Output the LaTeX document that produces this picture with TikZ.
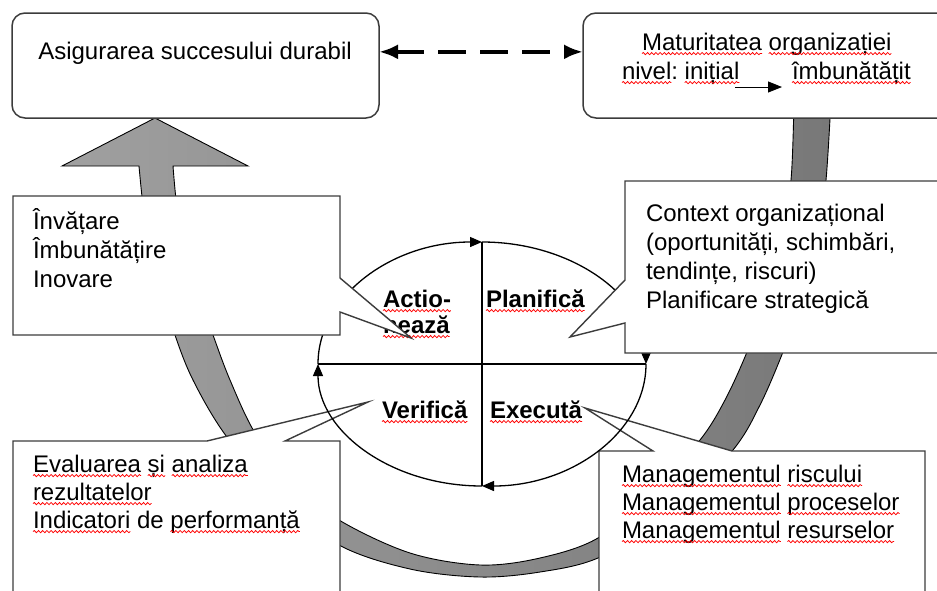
\documentclass[tikz,border=0pt]{standalone}
\usepackage{fontspec}
\setmainfont{Liberation Sans}
\usetikzlibrary{arrows.meta,shapes.geometric,calc,positioning,decorations.pathmorphing}

\definecolor{bandlight}{RGB}{160,160,160}
\definecolor{banddark}{RGB}{120,120,120}
\definecolor{edgegray}{RGB}{60,60,60}

\tikzset{
  txt/.style={anchor=base west, inner sep=0pt, outer sep=0pt,
              font=\fontsize{24}{28.6}\selectfont},
  ctxt/.style={txt, anchor=base},
  lbl/.style={txt, font=\fontsize{24}{28.6}\selectfont\bfseries},
  squig/.style={draw=red, line width=0.75pt, decorate,
                decoration={snake, amplitude=1.1pt, segment length=4.2pt}},
  % red wavy underline below a word node
  sq/.style={append after command={\pgfextra{\let\sqnode\tikzlastnode}
      ([yshift=-3.6pt]\sqnode.base west) edge[squig] ([yshift=-3.6pt]\sqnode.base east)}},
  nextword/.style={txt, base right=6.67pt of #1},
  topbox/.style={rectangle, draw=edgegray, line width=1.5pt, fill=white,
                 rounded corners=13pt, inner sep=0pt, outer sep=0pt},
  callout/.style={draw=edgegray, line width=1.4pt, fill=white, line join=miter},
  band/.style={draw=black, line width=0.9pt, left color=bandlight, right color=banddark},
  cyc/.style={line width=1.3pt, -{Triangle[length=12pt,width=10pt]}},
  crossline/.style={line width=1.3pt},
  dasharrow/.style={line width=4pt, dash pattern=on 28pt off 14pt,
                    {Latex[length=19pt,width=15pt]}-{Latex[length=19pt,width=15pt]}},
  smallarrow/.style={line width=1pt, -{Triangle[length=14pt,width=11pt]}}
}

\begin{document}
\begin{tikzpicture}[x=1pt,y=-1pt]
\useasboundingbox (0,0) rectangle (937,590);
\clip (0,0) rectangle (937,590);
\fill[white] (0,0) rectangle (937,590);

% the large circular arrow running round the cycle
\path[band]
  plot[smooth, tension=0.55] coordinates {(831,100) (826,180) (818,235) (802,300) (783,352)
      (760,405) (733,450) (670,517) (598,558) (540,572) (480,577) (410,569) (339,545)
      (275,495) (224,433) (193,380) (175,335) (157,275) (145,220) (139,166)}
  -- (62,166) -- (155,118) -- (248,166) --
  plot[smooth, tension=0.55] coordinates {(173,166) (178,215) (190,270) (213,335) (230,380)
      (255,433) (292,482) (339,520) (410,553) (480,565) (540,558) (598,538) (652,492)
      (700,440) (725,400) (747,352) (766,300) (781,240) (791,180) (794,100)}
  -- cycle;

% lower callouts
\path[callout] (13,441) -- (207,441) -- (368,402) -- (285,441) -- (340,441)
  -- (340,600) -- (13,600) -- cycle;
\path[callout] (599,451) -- (653,451) -- (585,408) -- (732,451) -- (925,451)
  -- (925,600) -- (599,600) -- cycle;

% PDCA cycle
\node[ellipse, minimum width=328pt, minimum height=244pt, inner sep=0pt, outer sep=0pt]
  (pdca) at (482,364) {};
\draw[crossline] (pdca.west) -- (pdca.east);
\draw[crossline] (pdca.north) -- (pdca.south);
\draw[cyc] (pdca.west)  arc[start angle=180, end angle=270, x radius=164, y radius=122];
\draw[cyc] (pdca.north) arc[start angle=270, end angle=360, x radius=164, y radius=122];
\draw[cyc] (pdca.east)  arc[start angle=0,   end angle=90,  x radius=164, y radius=122];
\draw[cyc] (pdca.south) arc[start angle=90,  end angle=180, x radius=164, y radius=122];

\node[lbl, sq] (act1) at (383,307) {Actio-};
\node[lbl, sq] (act2) at (383,333) {nează};
\node[lbl, sq] (plan) at (486,307) {Planifică};
\node[lbl, sq] (verif) at (382,418) {Verifică};
\node[lbl, sq] (exec) at (490,418) {Execută};

% upper callouts
\path[callout] (13,196) -- (340,196) -- (340,278) -- (411,338) -- (340,312)
  -- (340,335) -- (13,335) -- cycle;
\path[callout] (625,181) -- (950,181) -- (950,353) -- (625,353) -- (625,323)
  -- (570,337) -- (625,280) -- cycle;

% top boxes
\node[topbox, minimum width=367pt, minimum height=105pt] (succ) at (195.5,65.5) {};
\node[topbox, minimum width=372pt, minimum height=105pt] (matur) at (769,65.5) {};
\draw[dasharrow] ($(succ.north east)!0.37!(succ.south east)$)
  -- ($(matur.north west)!0.37!(matur.south west)$);

% texts of the top boxes
\node[ctxt] (tsucc) at (195,59) {Asigurarea succesului durabil};
\node[txt, sq] (tmat1) at (642,50) {Maturitatea};
\node[nextword=tmat1, sq] (tmat2) {organizației};
\node[txt, sq] (tniv1) at (622,79) {nivel};
\node[txt, base right=0pt of tniv1] (tniv2) {:};
\node[nextword=tniv2, sq] (tniv3) {inițial};
\node[txt, sq] (timb) at (792,79) {îmbunătățit};
\coordinate (lvA) at (735,87);
\coordinate (lvB) at (782,87);
\draw[smallarrow] (lvA) -- (lvB);

% callout texts
\node[txt] (inv1) at (33,229) {Învățare};
\node[txt] (inv2) at (33,258) {Îmbunătățire};
\node[txt] (inv3) at (33,287) {Inovare};

\node[txt] (ctx1) at (646,221) {Context organizațional};
\node[txt] (ctx2) at (646,250) {(oportunități, schimbări,};
\node[txt] (ctx3) at (646,279) {tendințe, riscuri)};
\node[txt] (ctx4) at (646,308) {Planificare strategică};

\node[txt, sq] (ev1a) at (33,472) {Evaluarea};
\node[nextword=ev1a, sq] (ev1b) {și};
\node[nextword=ev1b, sq] (ev1c) {analiza};
\node[txt, sq] (ev2) at (33,500) {rezultatelor};
\node[txt, sq] (ev3a) at (33,528) {Indicatori};
\node[nextword=ev3a] (ev3b) {de};
\node[nextword=ev3b, sq] (ev3c) {performanță};

\node[txt, sq] (mg1a) at (622,482) {Managementul};
\node[nextword=mg1a, sq] (mg1b) {riscului};
\node[txt, sq] (mg2a) at (622,510) {Managementul};
\node[nextword=mg2a, sq] (mg2b) {proceselor};
\node[txt, sq] (mg3a) at (622,538) {Managementul};
\node[nextword=mg3a, sq] (mg3b) {resurselor};
\end{tikzpicture}
\end{document}
